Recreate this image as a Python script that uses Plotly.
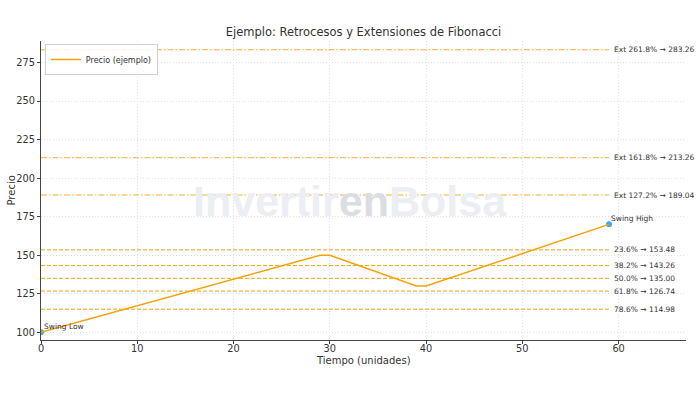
import plotly.graph_objects as go

# ---- data ----
time_pts = [0, 29, 30, 39, 40, 59]
price_pts = [100, 150, 150, 130, 130, 170]

swing_low = 100.0
swing_high = 170.0

retr_labels = ["23.6%", "38.2%", "50.0%", "61.8%", "78.6%"]
retr_values = [153.48, 143.26, 135.00, 126.74, 114.98]

ext_labels = ["Ext 127.2%", "Ext 161.8%", "Ext 261.8%"]
ext_values = [189.04, 213.26, 283.26]

x_ticks = [0, 10, 20, 30, 40, 50, 60]
y_ticks = [100, 125, 150, 175, 200, 225, 250, 275]

ORANGE = "#f5a20a"
BLUE = "#42a5f0"
FONT = "DejaVu Sans"

fig = go.Figure()

x0, x1 = time_pts[0], time_pts[-1]

for v in retr_values:
    fig.add_trace(go.Scatter(x=[x0, x1], y=[v, v], mode="lines", showlegend=False,
                             line=dict(color=ORANGE, width=1, dash="4px,2px"),
                             hoverinfo="skip"))
for v in ext_values:
    fig.add_trace(go.Scatter(x=[x0, x1], y=[v, v], mode="lines", showlegend=False,
                             line=dict(color="rgba(245,162,10,0.85)", width=1, dash="6px,2px,1.5px,2px"),
                             hoverinfo="skip"))

fig.add_trace(go.Scatter(x=[x0, x1], y=[swing_low, swing_high], mode="markers",
                         showlegend=False, marker=dict(color=BLUE, size=6)))

fig.add_trace(go.Scatter(x=time_pts, y=price_pts, mode="lines", name="Precio (ejemplo)",
                         line=dict(color=ORANGE, width=1.5)))

ann = []
for lab, v in zip(retr_labels, retr_values):
    ann.append(dict(x=x1, y=v, xref="x", yref="y", text=f"{lab} → {v:.2f}", showarrow=False,
                    xanchor="left", yanchor="middle", xshift=3,
                    font=dict(family=FONT, size=7.5, color="#333")))
for lab, v in zip(ext_labels, ext_values):
    ann.append(dict(x=x1, y=v, xref="x", yref="y", text=f"{lab} → {v:.2f}", showarrow=False,
                    xanchor="left", yanchor="middle", xshift=3,
                    font=dict(family=FONT, size=7.5, color="#333")))
ann.append(dict(x=x1, y=swing_high, xref="x", yref="y", text="Swing High", showarrow=False,
                xanchor="left", yanchor="bottom", xshift=0, yshift=-1,
                font=dict(family=FONT, size=7.5, color="#333")))
ann.append(dict(x=x0, y=swing_low, xref="x", yref="y", text="Swing Low", showarrow=False,
                xanchor="left", yanchor="bottom", xshift=1, yshift=-1,
                font=dict(family=FONT, size=7.5, color="#333")))
# axis titles (paper coords are relative to the plot area: 41..686 x, 41..340 y)
ann.append(dict(x=0.5, y=(340 - 360) / 299, xref="paper", yref="paper", showarrow=False,
                text="Tiempo (unidades)", xanchor="center", yanchor="middle",
                font=dict(family=FONT, size=10, color="#333")))
ann.append(dict(x=(11 - 41) / 645, y=0.5, xref="paper", yref="paper", showarrow=False,
                text="Precio", xanchor="center", yanchor="middle", textangle=-90,
                font=dict(family=FONT, size=10, color="#333")))
# watermark
ann.append(dict(x=(350 - 41) / 645, y=(340 - 201) / 299, xref="paper", yref="paper", showarrow=False,
                text="<b><span style='color:#ebeef2'>Invertir</span><span style='color:#dadee3'>en</span><span style='color:#ebeef2'>Bolsa</span></b>",
                xanchor="center", yanchor="middle",
                font=dict(family="Liberation Sans", size=43, color="#ebeef2")))

fig.update_layout(
    width=700, height=393,
    margin=dict(l=41, r=14, t=41, b=53),
    paper_bgcolor="white", plot_bgcolor="white",
    title=dict(text="Ejemplo: Retrocesos y Extensiones de Fibonacci", x=0.5, xref="paper",
               xanchor="center", y=1 - 32 / 393, yanchor="middle",
               font=dict(family=FONT, size=11.5, color="#333")),
    font=dict(family=FONT, color="#333"),
    annotations=ann,
    showlegend=True,
    legend=dict(x=0.006, y=0.99, xanchor="left", yanchor="top",
                bgcolor="rgba(255,255,255,0.85)", bordercolor="#d0d0d0", borderwidth=1,
                font=dict(family=FONT, size=8, color="#333"),
                itemwidth=30, tracegroupgap=0),
)

fig.update_xaxes(range=[0, 67], tickvals=x_ticks, ticks="outside", ticklen=3, tickcolor="#444",
                 showline=True, linecolor="#444", linewidth=1, automargin=False,
                 ticklabelstandoff=-4,
                 showgrid=True, gridcolor="#e2e2e2", griddash="1px,2px", gridwidth=0.8,
                 zeroline=False, tickfont=dict(family=FONT, size=9.8, color="#333"))
fig.update_yaxes(range=[95, 288.93], tickvals=y_ticks, ticks="outside", ticklen=3, tickcolor="#444",
                 showline=True, linecolor="#444", linewidth=1, automargin=False,
                 showgrid=True, gridcolor="#e2e2e2", griddash="1px,2px", gridwidth=0.8,
                 zeroline=False, tickfont=dict(family=FONT, size=9.8, color="#333"))

fig.write_html("out.html")
